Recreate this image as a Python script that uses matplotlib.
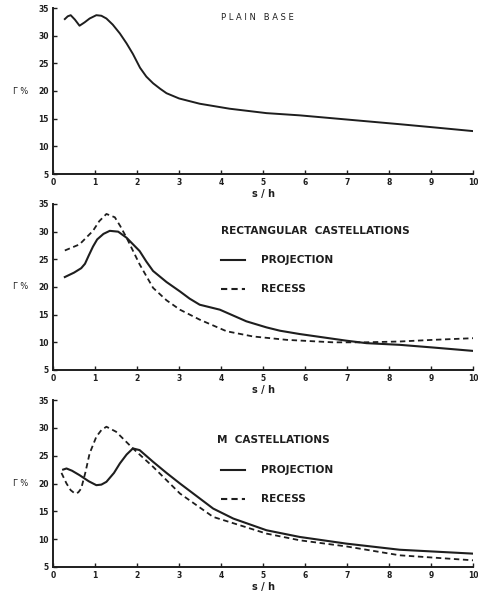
import matplotlib
matplotlib.use("Agg")
import matplotlib.pyplot as plt

# plain base
plain_x = [0.28, 0.35, 0.42, 0.52, 0.63, 0.75, 0.87, 1.03, 1.15, 1.27, 1.42, 1.59, 1.75, 1.90,
           2.07, 2.22, 2.38, 2.55, 2.70, 3.0, 3.49, 4.2, 5.08, 5.87, 7.06, 8.25, 9.1, 10.0]
plain_y = [33.0, 33.5, 33.7, 32.9, 31.8, 32.4, 33.1, 33.7, 33.6, 33.1, 32.0, 30.4, 28.6, 26.7,
           24.2, 22.6, 21.4, 20.4, 19.6, 18.65, 17.7, 16.8, 16.0, 15.6, 14.8, 14.0, 13.4, 12.75]

# rectangular castellations
rect_proj_x = [0.28, 0.5, 0.67, 0.76, 0.85, 0.95, 1.05, 1.2, 1.35, 1.55, 1.75, 2.06, 2.22, 2.38,
               2.7, 3.02, 3.25, 3.49, 3.97, 4.6, 5.08, 5.4, 5.87, 6.98, 7.46, 8.25, 9.05, 10.0]
rect_proj_y = [21.8, 22.6, 23.4, 24.2, 25.7, 27.3, 28.6, 29.6, 30.15, 30.0, 28.9, 26.5, 24.6, 22.9,
               20.9, 19.2, 17.9, 16.8, 15.9, 13.8, 12.7, 12.1, 11.5, 10.3, 9.85, 9.55, 9.06, 8.45]
rect_rec_x = [0.28, 0.63, 0.95, 1.1, 1.27, 1.47, 1.6, 1.75, 2.06, 2.38, 2.7, 3.02, 3.49, 4.13,
              4.76, 5.56, 6.67, 7.4, 8.25, 9.05, 10.0]
rect_rec_y = [26.6, 27.7, 30.15, 31.9, 33.2, 32.6, 31.0, 28.9, 24.1, 19.85, 17.6, 15.9, 14.1, 12.0,
              11.06, 10.45, 10.0, 10.0, 10.15, 10.45, 10.75]

# M castellations
m_proj_x = [0.24, 0.32, 0.45, 0.63, 0.85, 1.03, 1.15, 1.27, 1.45, 1.59, 1.75, 1.90, 2.06, 2.38,
            2.7, 3.02, 3.81, 4.29, 5.08, 5.87, 6.98, 8.25, 10.0]
m_proj_y = [22.5, 22.7, 22.3, 21.5, 20.4, 19.7, 19.8, 20.3, 21.9, 23.6, 25.2, 26.3, 26.0, 23.9,
            21.9, 20.0, 15.5, 13.7, 11.6, 10.4, 9.2, 8.1, 7.4]
m_rec_x = [0.2, 0.32, 0.42, 0.52, 0.6, 0.67, 0.77, 0.87, 1.03, 1.15, 1.27, 1.5, 1.7, 1.9,
           2.38, 3.02, 3.81, 5.08, 5.87, 6.98, 8.25, 10.0]
m_rec_y = [21.9, 20.0, 18.8, 18.2, 18.4, 19.1, 22.0, 25.4, 28.4, 29.6, 30.2, 29.3, 27.8, 26.3,
           23.0, 18.2, 14.0, 11.0, 9.8, 8.7, 7.1, 6.2]

x_ticks = list(range(0, 11))
y_ticks = [5, 10, 15, 20, 25, 30, 35]

ink = "#1e1e1e"
tf = dict(family="DejaVu Sans", fontweight="bold", color=ink)

fig = plt.figure(figsize=(4.78, 5.91), dpi=100)
rects = [
    [0.111, 1 - 174 / 591, 0.879, 166 / 591],
    [0.111, 1 - 370 / 591, 0.879, 166 / 591],
    [0.111, 1 - 567 / 591, 0.879, 167 / 591],
]
axes = [fig.add_axes(r) for r in rects]

for ax in axes:
    ax.set_xlim(0, 10)
    ax.set_ylim(5, 35)
    ax.set_xticks(x_ticks)
    ax.set_yticks(y_ticks)
    ax.spines["top"].set_visible(False)
    ax.spines["right"].set_visible(False)
    ax.spines["left"].set_linewidth(1.4)
    ax.spines["bottom"].set_linewidth(1.4)
    ax.spines["left"].set_color(ink)
    ax.spines["bottom"].set_color(ink)
    ax.tick_params(direction="in", length=3, width=1, colors=ink, labelsize=5.5, pad=3)
    for lab in ax.get_xticklabels() + ax.get_yticklabels():
        lab.set_fontweight("bold")
    ax.set_xlabel("s / h", fontsize=7, fontweight="bold", color=ink, labelpad=1)
    ax.text(-0.095, 0.5, "Γ %", transform=ax.transAxes, fontsize=6, color=ink,
            ha="left", va="center")

ax1, ax2, ax3 = axes
ax1.plot(plain_x, plain_y, color=ink, lw=1.4)
ax1.text(0.40, 0.94, "P L A I N   B A S E", transform=ax1.transAxes, fontsize=6, color=ink,
         ha="left", va="center")

ax2.plot(rect_proj_x, rect_proj_y, color=ink, lw=1.5, label="PROJECTION")
ax2.plot(rect_rec_x, rect_rec_y, color=ink, lw=1.3, ls=(0, (3, 2)), label="RECESS")
ax2.text(0.40, 0.84, "RECTANGULAR  CASTELLATIONS", transform=ax2.transAxes, fontsize=7.6,
         ha="left", va="center", **tf)

ax3.plot(m_proj_x, m_proj_y, color=ink, lw=1.5, label="PROJECTION")
ax3.plot(m_rec_x, m_rec_y, color=ink, lw=1.3, ls=(0, (3, 2)), label="RECESS")
ax3.text(0.39, 0.76, "M  CASTELLATIONS", transform=ax3.transAxes, fontsize=7.6,
         ha="left", va="center", **tf)

for ax, ys in [(ax2, (0.66, 0.49)), (ax3, (0.58, 0.41))]:
    for y, style, name in [(ys[0], "-", "PROJECTION"), (ys[1], (0, (3, 2)), "RECESS")]:
        ax.plot([0.40, 0.458], [y, y], transform=ax.transAxes, color=ink, lw=1.5, ls=style)
        ax.text(0.495, y, name, transform=ax.transAxes, fontsize=7.6, ha="left", va="center", **tf)

fig.savefig("out.png", dpi=100, facecolor="white")
